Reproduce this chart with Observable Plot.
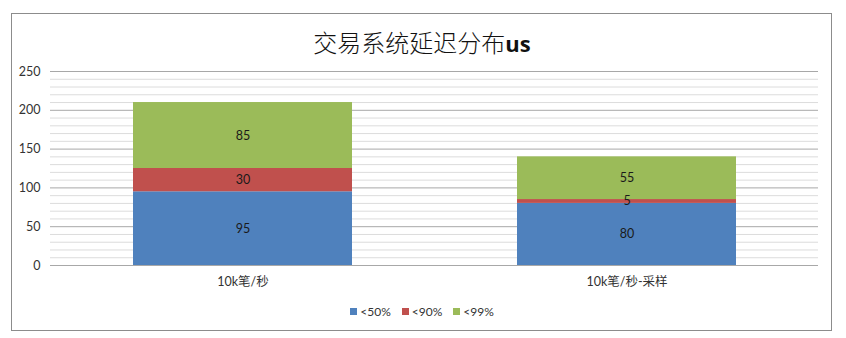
<!DOCTYPE html>
<html>
<head>
<meta charset="utf-8">
<script src="https://cdn.jsdelivr.net/npm/d3@7"></script>
<script src="https://cdn.jsdelivr.net/npm/@observablehq/plot@0.6"></script>
<style>
  html, body { margin: 0; padding: 0; background: #fff; }
  #wrap { position: relative; width: 846px; height: 338px; overflow: hidden; font-family: Lato, "Noto Sans CJK SC", sans-serif; }
  #frame { position: absolute; left: 11px; top: 13px; width: 821px; height: 318px; border: 1px solid #8c8c8c; box-sizing: border-box; }
  #title { position: absolute; left: 11px; width: 822px; top: 24px; text-align: center; font-size: 24px; line-height: 36px; color: #111; font-family: "Noto Sans CJK SC", sans-serif; font-weight: 300; }
  #title b { font-family: "Open Sans", sans-serif; font-weight: 700; font-size: 22px; }
  #chart { position: absolute; left: 0; top: 60px; }
  #legend { position: absolute; left: 11px; width: 822px; top: 304px; display: flex; justify-content: center; gap: 11px; font-size: 12px; color: #333; font-family: Lato, sans-serif; }
  #legend span { display: inline-flex; align-items: center; }
  #legend i { display: inline-block; width: 7px; height: 7px; margin-right: 3px; }
</style>
</head>
<body>
<div id="wrap">
  <div id="frame"></div>
  <div id="title">交易系统延迟分布<b>us</b></div>
  <div id="chart"></div>
  <div id="legend"></div>
</div>
<script>
// Throughput scenarios on the x axis
const categories = ["10k笔/秒", "10k笔/秒-采样"];
// Latency percentile series, stacked bottom to top
const seriesNames = ["<50%", "<90%", "<99%"];
const seriesColors = ["#4F81BD", "#C0504D", "#9BBB59"];
// Latency (us) per series, one value per category
const p50 = [95, 80];
const p90 = [30, 5];
const p99 = [85, 55];
// Y axis ticks and gridlines
const majorTicks = [0, 50, 100, 150, 200, 250];
const minorTicks = [10, 20, 30, 40, 60, 70, 80, 90, 110, 120, 130, 140, 160, 170, 180, 190, 210, 220, 230, 240];

const seriesValues = [p50, p90, p99];
const rows = [];
seriesNames.forEach((s, i) => {
  categories.forEach((c, j) => rows.push({category: c, series: s, value: seriesValues[i][j]}));
});

const chart = Plot.plot({
  width: 846,
  height: 240,
  marginTop: 11,
  marginBottom: 35,
  marginLeft: 50,
  marginRight: 28,
  style: {fontFamily: "Lato, 'Noto Sans CJK SC', sans-serif", fontSize: "12.5px", color: "#333", background: "transparent"},
  x: {domain: categories, paddingInner: 0.43, paddingOuter: 0.215, label: null, tickSize: 0, tickPadding: 12},
  y: {domain: [0, 250], ticks: majorTicks, label: null, tickSize: 0, tickPadding: 10},
  color: {domain: seriesNames, range: seriesColors},
  marks: [
    Plot.ruleY(minorTicks, {stroke: "#dcdcdc", strokeWidth: 1}),
    Plot.ruleY(majorTicks, {stroke: "#a8a8a8", strokeWidth: 1}),
    Plot.barY(rows, {x: "category", y: "value", fill: "series", order: seriesNames}),
    Plot.text(rows, Plot.stackY({x: "category", y: "value", z: "series", order: seriesNames, text: d => String(d.value), fill: "#1a1a1a", fontSize: 12.5}))
  ]
});
document.getElementById("chart").appendChild(chart);

const legend = document.getElementById("legend");
seriesNames.forEach((s, i) => {
  const item = document.createElement("span");
  const sw = document.createElement("i");
  sw.style.background = seriesColors[i];
  item.appendChild(sw);
  item.appendChild(document.createTextNode(s));
  legend.appendChild(item);
});
</script>
</body>
</html>
